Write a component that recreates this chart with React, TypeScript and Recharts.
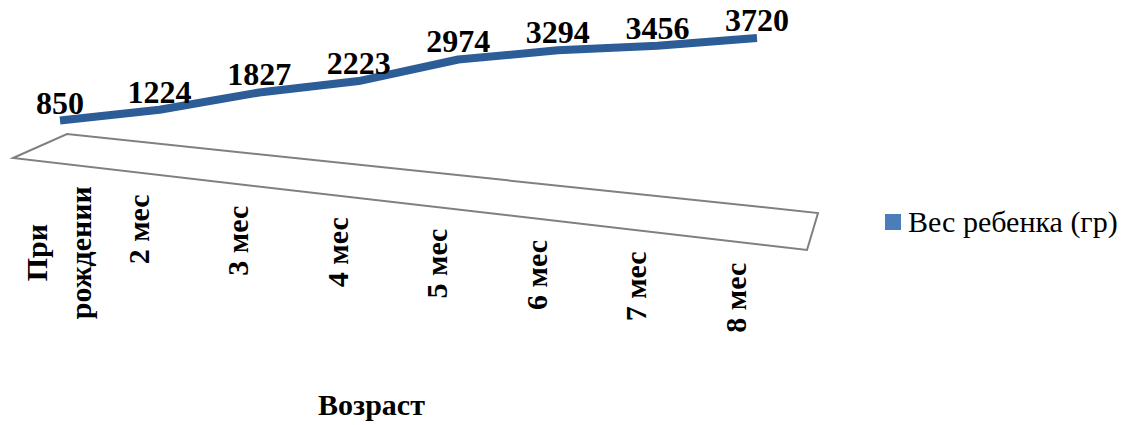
import { LineChart, Line, XAxis, YAxis, Legend, LabelList, Customized } from 'recharts';

// возраст ребенка (категории) и вес в граммах
const ages = ['При\nрождении', '2 мес', '3 мес', '4 мес', '5 мес', '6 мес', '7 мес', '8 мес'];
const weights = [850, 1224, 1827, 2223, 2974, 3294, 3456, 3720];
const seriesName = 'Вес ребенка (гр)';
const axisTitle = 'Возраст';

const data = ages.map((age, i) => ({ age, weight: weights[i] }));

const W = 1132;
const H = 425;
const margin = { top: 30, right: 375, left: 60, bottom: 30 };
const xAxisHeight = 250;
const plotBottom = H - margin.bottom - xAxisHeight;
const plotRight = W - margin.right;

const serif = "'Liberation Serif', 'Times New Roman', serif";

const AgeTick = (props: any) => {
  const { x, y, payload, index } = props;
  const lines = String(payload.value).split('\n');
  const fs = 30;
  const top = y + 38 + index * 11.4;
  const cx = x - 22 + (index === 0 ? 20 : 0);
  const gap = 44;
  const maxLen = Math.max(...lines.map((l) => l.length)) * fs * 0.58;
  return (
    <g>
      {lines.map((line, i) => {
        const bx = cx + (i - (lines.length - 1) / 2) * gap + 11;
        const ty = lines.length > 1 ? top + maxLen / 2 : top;
        return (
          <text
            key={i}
            x={bx}
            y={ty}
            transform={`rotate(-90, ${bx}, ${ty})`}
            textAnchor={lines.length > 1 ? 'middle' : 'end'}
            fontFamily={serif}
            fontWeight="bold"
            fontSize={fs}
            fill="#000"
          >
            {line}
          </text>
        );
      })}
    </g>
  );
};

const Floor = () => {
  const l = margin.left;
  const b = plotBottom;
  const pts = [
    [l - 47, b + 13],
    [l + 7, b - 11],
    [plotRight + 61, b + 68],
    [plotRight + 50, b + 105],
  ];
  return (
    <polygon
      points={pts.map((p) => p.join(',')).join(' ')}
      fill="#fff"
      stroke="#808080"
      strokeWidth={2}
    />
  );
};

const LegendBox = ({ payload }: any) => (
  <div style={{ display: 'flex', alignItems: 'center', fontFamily: serif, fontSize: 30, color: '#000' }}>
    {(payload || []).map((p: any) => (
      <div key={p.value} style={{ display: 'flex', alignItems: 'center' }}>
        <span style={{ width: 16, height: 16, background: '#4a7ebb', marginRight: 7, display: 'inline-block' }} />
        <span style={{ whiteSpace: 'nowrap' }}>{p.value}</span>
      </div>
    ))}
  </div>
);

export default function App() {
  return (
    <div style={{ position: 'absolute', left: 0, top: 0, width: W, height: H, background: '#fff' }}>
      <LineChart width={W} height={H} data={data} margin={margin}>
        <Customized component={<Floor />} />
        <XAxis
          dataKey="age"
          height={xAxisHeight}
          axisLine={false}
          tickLine={false}
          tickSize={0}
          tickMargin={0}
          interval={0}
          tick={<AgeTick />}
          label={{
            value: axisTitle,
            position: 'insideBottom',
            offset: -20,
            dx: -37,
            style: { fontFamily: serif, fontWeight: 'bold', fontSize: 30, fill: '#000' },
          }}
        />
        <YAxis domain={[0, 4000]} hide />
        <Legend
          layout="horizontal"
          align="center"
          verticalAlign="middle"
          wrapperStyle={{ left: 885, top: 205, width: 250 }}
          content={<LegendBox />}
        />
        <Line
          type="linear"
          dataKey="weight"
          name={seriesName}
          stroke="#2c5d96"
          strokeWidth={8}
          strokeLinejoin="round"
          dot={false}
          activeDot={false}
          legendType="square"
          isAnimationActive={false}
        >
          <LabelList
            dataKey="weight"
            position="top"
            offset={7}
            style={{ fontFamily: serif, fontWeight: 'bold', fontSize: 32, fill: '#000' }}
          />
        </Line>
      </LineChart>
    </div>
  );
}
